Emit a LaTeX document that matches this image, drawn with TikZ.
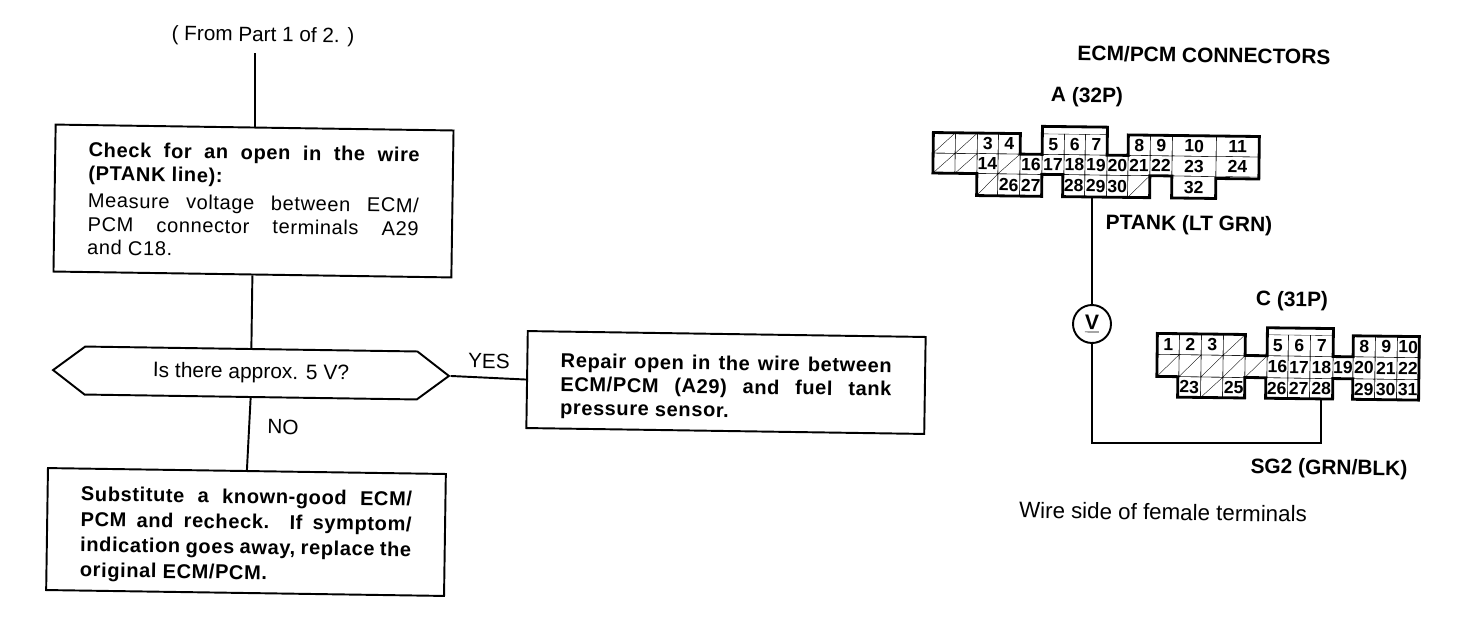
\documentclass[tikz,border=0pt]{standalone}
\usepackage{fontspec}
\usetikzlibrary{shapes.symbols}
\setmainfont{Liberation Sans}
\newfontfamily\flowfont[LetterSpace=3]{Liberation Sans}
\newcommand{\jl}[1]{\makebox[6.62cm][s]{#1}}
\newcommand{\jb}[1]{\makebox[6.62cm][s]{\bfseries #1}}
\newcommand{\pinrow}[4]{%
  \foreach \lx/\rx/\lbl in {#4}
    \node at ({(\lx+\rx)/2},{(#2+#3)/2}) [pin, minimum width={(\rx-\lx)*0.02cm}, minimum height={(#3-#2)*0.02cm}] (#1\lbl) {\lbl};}
\newcommand{\hatchrow}[3]{%
  \foreach \lx/\rx in {#3}
    \draw[very thin] (\lx,#1) rectangle (\rx,#2) (\lx,#2) -- (\rx,#1);}
\tikzset{
  flowbox/.style={draw, line width=1.1pt, inner sep=0pt, minimum width=7.96cm, align=left, font=\fontsize{11.4}{13.4}\selectfont\flowfont},
  hexbox/.style={draw, line width=1.1pt, shape=signal, signal to=east and west, signal pointer angle=74, inner sep=0pt, minimum width=7.92cm, minimum height=0.96cm, font=\fontsize{11.9}{13}\selectfont},
  pin/.style={draw, very thin, inner sep=0pt, rotate=0, font=\fontsize{10}{10}\selectfont\bfseries},
  plain/.style={font=\fontsize{11.8}{13}\selectfont},
  heavy/.style={font=\fontsize{11.9}{13}\selectfont\bfseries},
  wire/.style={line width=1.1pt},
  outline/.style={line width=1.6pt, line join=miter}
}
\begin{document}
\begin{tikzpicture}[x=0.02cm,y=-0.02cm,every node/.style={rotate=-0.85}]
  \useasboundingbox (0,0) rectangle (1472,620);
  \fill[white] (0,0) rectangle (1472,620);

  \node at (263,36) [plain] (from) {( From Part 1 of 2. )};
  \coordinate (start) at (255,53);
  \node at (253.5,201) [flowbox, minimum height=2.94cm] (check) {\jb{Check for an open in the wire}\\\textbf{(PTANK line):}\\[2pt]\jl{Measure voltage between ECM/}\\\jl{PCM connector terminals A29}\\and C18.};
  \node at (251,373) [hexbox] (ask) {\raisebox{-1pt}{Is there approx. 5 V?}};
  \node at (726,382.5) [flowbox, minimum height=1.94cm] (repair) {\rule{0pt}{15pt}\jb{Repair open in the wire between}\\\jb{ECM/PCM (A29) and fuel tank}\\\textbf{pressure sensor.}};
  \node at (246,532) [flowbox, minimum height=2.44cm] (subst) {\rule{0pt}{13pt}\jb{Substitute a known-good ECM/}\\[1pt]\jb{PCM and recheck. If symptom/}\\[1pt]\jb{indication goes away, replace the}\\[1pt]\textbf{original ECM/PCM.}};
  \node at (489,361) [plain] (yes) {YES};
  \node at (283,427) [plain] (no) {NO};
  \draw[wire] (start) -- (start |- check.north);
  \draw[wire] (check.south) -- (ask.north);
  \draw[wire] (ask.south) -- (subst.north);
  \draw[wire] (ask.east) -- (repair.west);

  \node at (1204,55) [heavy] (title) {ECM/PCM CONNECTORS};
  \node at (1087,97) [heavy] (alabel) {A (32P)};
  \node at (1189,225) [heavy] (ptank) {PTANK (LT GRN)};
  \node at (1292,301) [heavy] (clabel) {C (31P)};
  \node at (1329,469) [heavy] (sgtwo) {SG2 (GRN/BLK)};
  \node at (1163,512) [plain, font=\fontsize{12.7}{14}\selectfont] (wside) {Wire side of female terminals};

  \begin{scope}[rotate around={-0.7:(1095,165)}]
    \pinrow{a}{134.5}{155}{977/998/3,998/1020/4,1042/1064/5,1064/1085/6,1085/1107/7,1128/1150/8,1150/1172/9,1172/1216/10,1216/1259/11}
    \pinrow{a}{155}{175}{977/998/14,1020/1042/16,1042/1064/17,1064/1085/18,1085/1107/19,1107/1128/20,1128/1150/21,1150/1172/22,1172/1216/23,1216/1259/24}
    \pinrow{a}{175}{197}{998/1020/26,1020/1042/27,1063/1085/28,1085/1107/29,1107/1128/30,1172/1216/32}
    \hatchrow{134.5}{155}{933/955,955/977}
    \hatchrow{155}{175}{933/955,955/977,998/1020}
    \hatchrow{175}{197}{977/998,1128/1150}
    \draw[outline] (933,134.5) -- (1020,134.5) -- (1020,155) -- (1042,155) -- (1042,127) -- (1107,127) -- (1107,155) -- (1128,155) -- (1128,134.5) -- (1259,134.5) -- (1259,177) -- (1216,177) -- (1216,197) -- (1172,197) -- (1172,175) -- (1150,175) -- (1150,197) -- (1063,197) -- (1063,175) -- (1042,175) -- (1042,197) -- (977,197) -- (977,175) -- (933,175) -- cycle;
  \end{scope}

  \begin{scope}[rotate around={-0.7:(1288,365)}]
    \pinrow{c}{335}{356}{1157/1179/1,1179/1201/2,1201/1223/3,1267/1288/5,1288/1310/6,1310/1333/7,1353/1375/8,1375/1397/9,1397/1419/10}
    \pinrow{c}{356}{378}{1267/1288/16,1288/1310/17,1310/1333/18,1333/1353/19,1353/1375/20,1375/1397/21,1397/1419/22}
    \pinrow{c}{378}{398.5}{1178/1201/23,1223/1245/25,1266/1288/26,1288/1310/27,1310/1333/28,1353/1375/29,1375/1397/30,1397/1419/31}
    \hatchrow{335}{356}{1223/1245}
    \hatchrow{356}{378}{1157/1179,1179/1201,1201/1223,1223/1245,1245/1267}
    \hatchrow{378}{398.5}{1201/1223}
    \draw[outline] (1157,335) -- (1245,335) -- (1245,356) -- (1267,356) -- (1267,328) -- (1333,328) -- (1333,356) -- (1353,356) -- (1353,335) -- (1419,335) -- (1419,398.5) -- (1353,398.5) -- (1353,378) -- (1333,378) -- (1333,398.5) -- (1266,398.5) -- (1266,378) -- (1245,378) -- (1245,398.5) -- (1178,398.5) -- (1178,378) -- (1157,378) -- cycle;
  \end{scope}

  \node at (1092,324) [draw, wire, circle, minimum size=0.76cm, inner sep=0pt, font=\fontsize{12}{13}\selectfont\bfseries] (vm) {\underline{V}};
  \draw[wire] (vm.north) -- (vm.north |- a29.south);
  \draw[line width=1.3pt] (vm.south) |- (c28.south |- 0,443) -- (c28.south);
\end{tikzpicture}
\end{document}
